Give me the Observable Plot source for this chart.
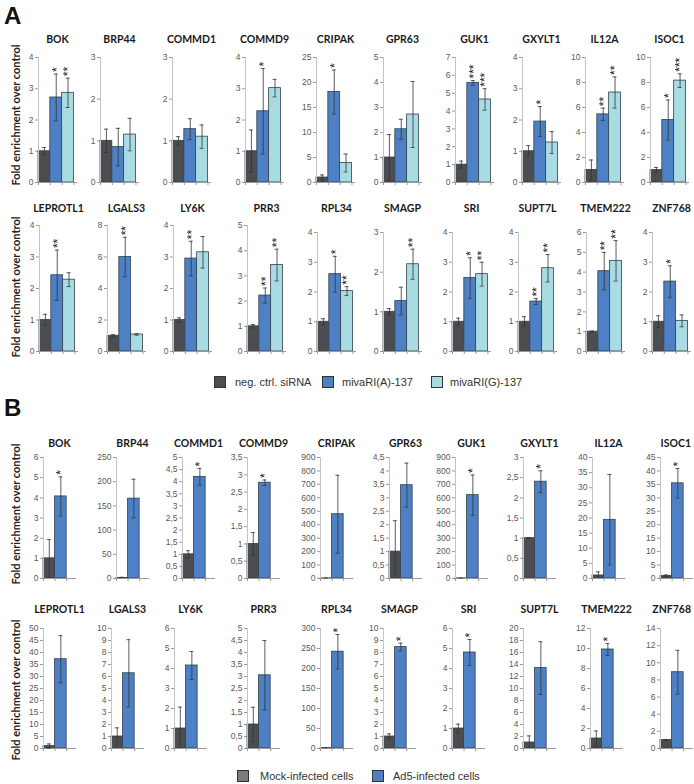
<!DOCTYPE html>
<html><head><meta charset="utf-8">
<script src="https://cdn.jsdelivr.net/npm/d3@7"></script>
<script src="https://cdn.jsdelivr.net/npm/@observablehq/plot@0.6"></script>
<style>
body{margin:0;background:#fff;}
#root{position:relative;width:694px;height:784px;overflow:hidden;}
.ttl{position:absolute;transform:translate(-50%,-50%);font:bold 10.5px Lato,"Liberation Sans",Arial,sans-serif;color:#1a1a1a;white-space:nowrap;}
.ylab{position:absolute;transform:translate(-50%,-50%) rotate(-90deg);font:bold 11px Lato,"Liberation Sans",Arial,sans-serif;color:#222;white-space:nowrap;}
.sec{position:absolute;font:bold 24px "Liberation Sans",Arial,sans-serif;color:#111;}
.lgsq{position:absolute;width:10px;height:10px;border:1px solid #333;}
.lgtx{position:absolute;transform:translateY(-50%);font:11px "Liberation Sans",Arial,sans-serif;color:#333;white-space:nowrap;}
</style></head><body><div id="root"></div>
<script>
// ---------- DATA ----------
const genesRow1 = ["BOK","BRP44","COMMD1","COMMD9","CRIPAK","GPR63","GUK1","GXYLT1","IL12A","ISOC1"];
const genesRow2 = ["LEPROTL1","LGALS3","LY6K","PRR3","RPL34","SMAGP","SRI","SUPT7L","TMEM222","ZNF768"];
const seriesA = ["neg. ctrl. siRNA","mivaRI(A)-137","mivaRI(G)-137"];
const seriesB = ["Mock-infected cells","Ad5-infected cells"];

// Panel A (genes row1 then row2)
const aNeg      = [1,1,1,1,1,1,1,1,1,1, 1,1,1,1,1,1,1,1,1,1];
const aNegErr   = [.12,.28,.1,.68,.5,.92,.2,.18,.8,.2, .18,.07,.07,.07,.1,.08,.12,.17,.03,.2];
const aMivaA    = [2.72,.85,1.28,2.28,18.1,2.13,5.58,1.95,5.45,5.0, 2.42,6.0,2.95,2.22,2.6,1.27,2.47,1.68,4.05,2.35];
const aMivaAErr = [.75,.45,.25,1.37,4.4,.4,.13,.48,.5,1.6, .8,1.25,.55,.3,.6,.35,.68,.1,.95,.53];
const aMivaG    = [2.87,1.15,1.1,3.02,3.9,2.72,4.65,1.28,7.2,8.15, 2.28,1.08,3.15,3.43,2.03,2.2,2.6,2.8,4.57,1.03];
const aMivaGErr = [.47,.39,.28,.28,1.8,1.32,.6,.35,1.25,.55, .22,.05,.5,.63,.15,.38,.4,.46,1.02,.2];
const aStarsA   = ["*","","","*","*","","***","*","**","*", "**","**","**","**","*","","*","**","**","*"];
const aStarsG   = ["**","","","","","","***","","**","***", "","","","**","**","**","**","**","**",""];
const aYMax     = [4,3,3,4,25,5,7,4,10,10, 4,8,4,5,4,3,4,4,6,4];
const aYStep    = [1,1,1,1,5,1,1,1,2,2, 1,2,1,1,1,1,1,1,1,1];

// Panel B
const bMock     = [1,1,1,1,1,1,1,1,1,1, 1,1,1,1,1,1,1,1,1,1];
const bMockErr  = [.93,1.5,.15,.33,2,1.15,2,.01,1.2,.3, .9,.72,1.07,.72,1,.22,.22,1.1,.75,.05];
const bAd5      = [4.07,165,4.2,2.77,478,3.47,620,2.4,19.4,35.4, 37.2,6.27,4.15,3.05,242,8.45,4.8,13.4,9.9,8.9];
const bAd5Err   = [.97,40,.35,.08,290,.82,150,.27,15,5.5, 9.8,2.8,.7,1.45,43,.33,.65,4.4,.6,2.55];
const bStars    = ["*","","*","*","","","*","*","","*", "","","","","*","*","*","","*",""];
const bYMax     = [6,250,5,3.5,900,4.5,900,3,40,45, 50,10,6,5,300,10,6,20,12,14];
const bYStep    = [1,50,.5,.5,100,.5,100,.5,5,5, 5,1,1,.5,50,1,1,2,2,2];

// ---------- LAYOUT / STYLE ----------
const colorsA = ["#4b4d50","#4d80c4","#a8dbe2"];
const colorsB = ["#4b4d50","#4d80c4"];
const legendSqB = ["#7a7c80","#4d80c4"];
const axisXA1 = [38,100,172,245,316,383,455,522,585,650];
const axisXA2 = [39,107,173,247,317,383,452,518,586,652];
const axisXB1 = [43,116,182,247,320,389,455,523,592,660];
const axisXB2 = [43,111,174,247,320,383,452,523,590,660];
const topsA2  = [225,225,225,225,232,232,232,232,232,232];

const root = document.getElementById("root");
const ML = 32, MT = 18, MB = 6, MR = 2;

function panel({left, top, bottom, inner, xmax, ymax, step, rows, colors, series, comma}) {
  const h = bottom - top;
  const ticks = d3.range(0, ymax + step / 2, step);
  const fmt = comma ? (d => String(d).replace(".", ",")) : (d => String(d));
  const plot = Plot.plot({
    width: ML + inner + MR, height: MT + h + MB,
    marginLeft: ML, marginRight: MR, marginTop: MT, marginBottom: MB,
    x: {domain: [0, xmax], axis: null},
    y: {domain: [0, ymax], axis: null},
    color: {domain: series, range: colors},
    style: {background: "transparent", overflow: "visible", fontFamily: "'Liberation Sans', Arial, sans-serif", fontSize: "8.5px"},
    marks: [
      Plot.axisY({ticks, tickFormat: fmt, tickSize: 3, tickPadding: 2, stroke: "#9a9a9a", fill: "#595959", label: null}),
      Plot.rect(rows, {x1: "i", x2: d => d.i + 1, y1: 0, y2: "v", fill: "s", stroke: "#34404c", strokeWidth: 0.8}),
      Plot.ruleX([0], {stroke: "#c4c4c4"}),
      Plot.ruleY([0], {stroke: "#9a9a9a"}),
      Plot.axisX({ticks: d3.range(0, Math.floor(xmax) + 1), tickSize: 3, tickFormat: () => "", stroke: "#9a9a9a", label: null}),
      Plot.ruleX(rows, {x: d => d.i + 0.5, y1: d => Math.max(0, d.v - d.e), y2: d => d.v + d.e, stroke: "#333", strokeWidth: 0.8}),
      Plot.ruleY(rows, {y: d => d.v + d.e, x1: d => d.i + 0.33, x2: d => d.i + 0.67, stroke: "#333", strokeWidth: 0.8}),
      Plot.ruleY(rows.filter(d => d.v - d.e > 0), {y: d => d.v - d.e, x1: d => d.i + 0.33, x2: d => d.i + 0.67, stroke: "#333", strokeWidth: 0.8}),
      Plot.text(rows.filter(d => d.star), {x: d => d.i + 0.5, y: d => d.v + d.e, text: "star", rotate: -90, textAnchor: "start", lineAnchor: "middle", dy: -2, dx: 0.5, fontSize: 12, fill: "#111", fontFamily: "'Liberation Sans', Arial, sans-serif"})
    ]
  });
  plot.querySelectorAll('g[aria-label="text"]').forEach(g => { g.style.filter = "grayscale(1)"; });
  plot.style.position = "absolute";
  plot.style.left = (left - ML) + "px";
  plot.style.top = (top - MT) + "px";
  plot.style.maxWidth = "none";
  root.appendChild(plot);
}

function addDiv(cls, text, x, y, extra) {
  const d = document.createElement("div");
  d.className = cls;
  d.textContent = text;
  d.style.left = x + "px";
  d.style.top = y + "px";
  if (extra) Object.assign(d.style, extra);
  root.appendChild(d);
  return d;
}

const rowCfg = [
  {sec: "A", genes: genesRow1, off: 0,  axisX: axisXA1, tops: Array(10).fill(57), bottom: 182, titleY: 39},
  {sec: "A", genes: genesRow2, off: 10, axisX: axisXA2, tops: topsA2, bottom: 351, titleY: 208},
  {sec: "B", genes: genesRow1, off: 0,  axisX: axisXB1, tops: Array(10).fill(457), bottom: 578, titleY: 443},
  {sec: "B", genes: genesRow2, off: 10, axisX: axisXB2, tops: Array(10).fill(628), bottom: 748, titleY: 609}
];

rowCfg.forEach(rc => {
  rc.genes.forEach((g, j) => {
    const k = rc.off + j;
    let rows, inner, xmax;
    if (rc.sec === "A") {
      const vals = [aNeg[k], aMivaA[k], aMivaG[k]];
      const errs = [aNegErr[k], aMivaAErr[k], aMivaGErr[k]];
      const stars = ["", aStarsA[k], aStarsG[k]];
      rows = seriesA.map((s, i) => ({i, s, v: vals[i], e: errs[i], star: stars[i]}));
      inner = 39; xmax = 3.3;
      panel({left: rc.axisX[j], top: rc.tops[j], bottom: rc.bottom, inner, xmax, ymax: aYMax[k], step: aYStep[k], rows, colors: colorsA, series: seriesA, comma: false});
    } else {
      const vals = [bMock[k], bAd5[k]];
      const errs = [bMockErr[k], bAd5Err[k]];
      const stars = ["", bStars[k]];
      rows = seriesB.map((s, i) => ({i, s, v: vals[i], e: errs[i], star: stars[i]}));
      inner = 33; xmax = 2.85;
      panel({left: rc.axisX[j], top: rc.tops[j], bottom: rc.bottom, inner, xmax, ymax: bYMax[k], step: bYStep[k], rows, colors: colorsB, series: seriesB, comma: true});
    }
    const d = addDiv("ttl", g, rc.axisX[j] + inner / 2, rc.titleY);
    const w = d.getBoundingClientRect().width;
    const cx = Math.min(rc.axisX[j] + inner / 2, 694 - w / 2 - 3);
    d.style.left = cx + "px";
  });
});

// section letters
addDiv("sec", "A", 4, 2);
addDiv("sec", "B", 4, 394);

// y labels
[115, 287, 514, 690].forEach(y => addDiv("ylab", "Fold enrichment over control", 15, y));

// legends
const legA = [[214, 235], [322, 342], [431, 450]];
seriesA.forEach((s, i) => {
  addDiv("lgsq", "", legA[i][0], 376, {background: colorsA[i]});
  addDiv("lgtx", s, legA[i][1], 382);
});
const legB = [[237, 260], [372, 393]];
seriesB.forEach((s, i) => {
  addDiv("lgsq", "", legB[i][0], 770, {background: legendSqB[i]});
  addDiv("lgtx", s, legB[i][1], 776);
});
</script></body></html>
